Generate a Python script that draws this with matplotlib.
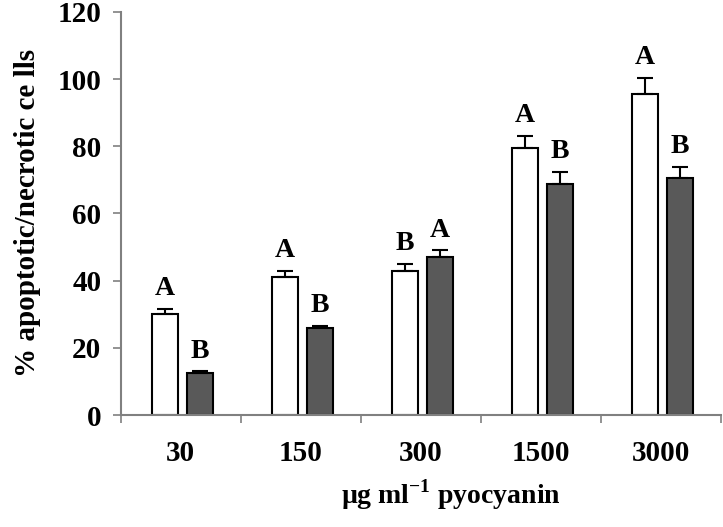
import numpy as np
import matplotlib.pyplot as plt

doses = ['30', '150', '300', '1500', '3000']
white_vals = [30, 41, 43, 79.5, 95.5]
white_err = [1.5, 2, 2, 3.5, 4.8]
white_letters = ['A', 'A', 'B', 'A', 'A']
dark_vals = [12.5, 26, 47, 68.8, 70.5]
dark_err = [0.5, 0.5, 2, 3.6, 3.3]
dark_letters = ['B', 'B', 'A', 'B', 'B']

plt.rcParams['font.family'] = ['Liberation Serif', 'DejaVu Serif']
plt.rcParams['font.weight'] = 'bold'

fig = plt.figure(figsize=(7.23, 5.27), dpi=100)
ax = fig.add_axes([0.167, 0.2125, 0.83, 0.765])

x = np.arange(len(doses))
w = 0.22
xw = x - 0.13
xd = x + 0.16

ax.bar(xw, white_vals, w, color='white', edgecolor='black', linewidth=1.5,
       yerr=[np.zeros(5), white_err], error_kw=dict(ecolor='black', elinewidth=1.5, capsize=6, capthick=1.5))
ax.bar(xd, dark_vals, w, color='#595959', edgecolor='black', linewidth=1.5,
       yerr=[np.zeros(5), dark_err], error_kw=dict(ecolor='black', elinewidth=1.5, capsize=6, capthick=1.5))

for i in range(len(doses)):
    ax.text(xw[i], white_vals[i] + white_err[i] + 2.3, white_letters[i], ha='center', va='bottom',
            fontsize=20, fontweight='bold')
    ax.text(xd[i], dark_vals[i] + dark_err[i] + 2.3, dark_letters[i], ha='center', va='bottom',
            fontsize=20, fontweight='bold')

ax.set_xlim(-0.5, 4.5)
ax.set_ylim(0, 120)
ax.set_yticks(range(0, 121, 20))
ax.set_xticks(x)
ax.set_xticklabels(doses, fontsize=21, fontweight='bold')
ax.set_xticks(np.arange(-0.5, 5, 1), minor=True)
ax.tick_params(axis='x', which='major', length=0, pad=18)
ax.tick_params(axis='x', which='minor', length=6, width=1.2, color='#808080', direction='out')
ax.tick_params(axis='y', length=6, width=1.2, color='#808080', labelsize=21, pad=8)
for t in ax.get_yticklabels():
    t.set_fontweight('bold')

for s in ['top', 'right']:
    ax.spines[s].set_visible(False)
for s in ['left', 'bottom']:
    ax.spines[s].set_color('#808080')
    ax.spines[s].set_linewidth(1.5)

ax.set_ylabel('% apoptotic/necrotic ce lls', fontsize=21, fontweight='bold', labelpad=12)
ax.set_xlabel(r'µg ml$^{\mathregular{-1}}$ pyocyanin', fontsize=20, fontweight='bold', labelpad=8)
ax.xaxis.set_label_coords(0.55, -0.155)

fig.savefig('out.png', dpi=100)
